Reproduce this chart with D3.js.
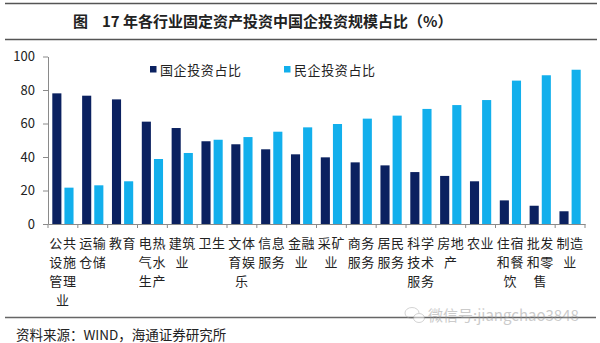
<!DOCTYPE html>
<html>
<head>
<meta charset="utf-8">
<script src="https://cdn.jsdelivr.net/npm/d3@7"></script>
<style>
  html, body { margin: 0; padding: 0; background: #fff; }
  svg { display: block; }
  text { font-family: "Noto Sans CJK SC", "Liberation Sans", sans-serif; }
</style>
</head>
<body>
<svg id="chart" width="600" height="343"></svg>
<script>
// 2017 fixed-asset investment by industry: share of state-owned vs private (%)
const categories = [
  "公共设施管理业", "运输仓储", "教育", "电热气水生产", "建筑业", "卫生",
  "文体育娱乐", "信息服务", "金融业", "采矿业", "商务服务", "居民服务",
  "科学技术服务", "房地产", "农业", "住宿和餐饮", "批发和零售", "制造业"
];
const seriesNames = ["国企投资占比", "民企投资占比"];
const stateShare = [78.0, 76.6, 74.4, 61.1, 57.3, 49.4, 47.6, 44.6, 41.6, 39.8, 36.8, 35.0, 31.0, 28.7, 25.5, 14.1, 10.9, 7.6];
const privateShare = [21.7, 23.1, 25.5, 38.8, 42.4, 50.3, 51.9, 55.1, 57.7, 59.7, 62.9, 64.7, 68.7, 71.0, 74.0, 85.6, 88.8, 92.1];
const yTicks = [0, 20, 40, 60, 80, 100];

const colors = ["#0b2160", "#12afec"];
const svg = d3.select("#chart");

// Header rules and title
svg.append("line").attr("x1", 5).attr("x2", 597).attr("y1", 3.5).attr("y2", 3.5)
  .attr("stroke", "#555").attr("stroke-width", 1.6);
svg.append("line").attr("x1", 5).attr("x2", 597).attr("y1", 39.5).attr("y2", 39.5)
  .attr("stroke", "#555").attr("stroke-width", 1.6);
svg.append("text").attr("x", 73).attr("y", 27)
  .attr("font-size", 15).attr("font-weight", "bold").attr("fill", "#222")
  .text("图");
svg.append("text").attr("x", 102).attr("y", 27)
  .attr("font-size", 15).attr("font-weight", "bold").attr("fill", "#222")
  .text("17 年各行业固定资产投资中国企投资规模占比（%）");

// Scales
const x = d3.scaleBand().domain(categories).range([48, 585]).paddingInner(0).paddingOuter(0);
const x1 = d3.scaleBand().domain(seriesNames).range([4.3, x.bandwidth() - 4.3]).paddingInner(0.25);
const y = d3.scaleLinear().domain([0, 100]).range([224, 56.5]);

// Bars
const rows = categories.map((c, i) => ({ cat: c, vals: [stateShare[i], privateShare[i]] }));
const groups = svg.append("g").selectAll("g").data(rows).join("g")
  .attr("transform", d => `translate(${x(d.cat)},0)`);
groups.selectAll("rect")
  .data(d => d.vals.map((v, k) => ({ key: seriesNames[k], v, k })))
  .join("rect")
  .attr("x", d => x1(d.key))
  .attr("width", x1.bandwidth())
  .attr("y", d => y(d.v))
  .attr("height", d => y(0) - y(d.v))
  .attr("fill", d => colors[d.k]);

// Y axis
const yAxis = svg.append("g").attr("transform", "translate(48,0)")
  .call(d3.axisLeft(y).tickValues(yTicks).tickSize(5).tickSizeOuter(0).tickPadding(8));
yAxis.select(".domain").attr("stroke", "#8a8a8a");
yAxis.selectAll(".tick line").attr("stroke", "#8a8a8a");
yAxis.selectAll(".tick text")
  .attr("font-family", "Liberation Sans, Arial, sans-serif")
  .attr("font-size", 13).attr("fill", "#222");

// X axis with ticks on category boundaries
const xAxis = svg.append("g").attr("transform", "translate(0,224)")
  .call(d3.axisBottom(x).tickSize(0).tickSizeOuter(0).tickFormat(""));
xAxis.select(".domain").attr("stroke", "#8a8a8a");
xAxis.selectAll(".tick").remove();
const bounds = categories.map(c => x(c)).concat([x.range()[1]]);
xAxis.selectAll("line.bound").data(bounds).join("line")
  .attr("class", "bound")
  .attr("x1", d => d).attr("x2", d => d)
  .attr("y1", 0).attr("y2", 4)
  .attr("stroke", "#8a8a8a");

// Category labels, wrapped two characters per line
const labels = svg.append("g").selectAll("text").data(categories).join("text")
  .attr("text-anchor", "middle")
  .attr("font-size", 13).attr("fill", "#222")
  .attr("letter-spacing", 0.6)
  .attr("transform", d => `translate(${x(d) + x.bandwidth() / 2},248)`);
labels.each(function (d) {
  const parts = d.match(/.{1,2}/g);
  d3.select(this).selectAll("tspan").data(parts).join("tspan")
    .attr("x", 0).attr("y", (p, i) => i * 19)
    .text(p => p);
});

// Legend
const legend = svg.append("g");
const legendX = [150, 284];
seriesNames.forEach((name, k) => {
  legend.append("rect").attr("x", legendX[k]).attr("y", 66)
    .attr("width", 6.5).attr("height", 6.5).attr("fill", colors[k]);
  legend.append("text").attr("x", legendX[k] + 10).attr("y", 74.5)
    .attr("font-size", 13).attr("fill", "#222").attr("letter-spacing", 0.6)
    .text(name);
});

// Footer rule and source note
svg.append("line").attr("x1", 5).attr("x2", 596).attr("y1", 317.5).attr("y2", 317.5)
  .attr("stroke", "#666").attr("stroke-width", 1.6);
svg.append("text").attr("x", 16).attr("y", 340)
  .attr("font-size", 13.5).attr("fill", "#222")
  .text("资料来源：WIND，海通证券研究所");

// Account mark
const mark = svg.append("g").attr("opacity", 0.5);
mark.append("ellipse").attr("cx", 412).attr("cy", 313).attr("rx", 7).attr("ry", 5.5)
  .attr("fill", "none").attr("stroke", "#aaa");
mark.append("ellipse").attr("cx", 419).attr("cy", 318).attr("rx", 5.5).attr("ry", 4.5)
  .attr("fill", "#fff").attr("stroke", "#aaa");
mark.append("text").attr("x", 428).attr("y", 320.5)
  .attr("font-size", 15).attr("fill", "#999")
  .text("微信号:jiangchao3848");
</script>
</body>
</html>
